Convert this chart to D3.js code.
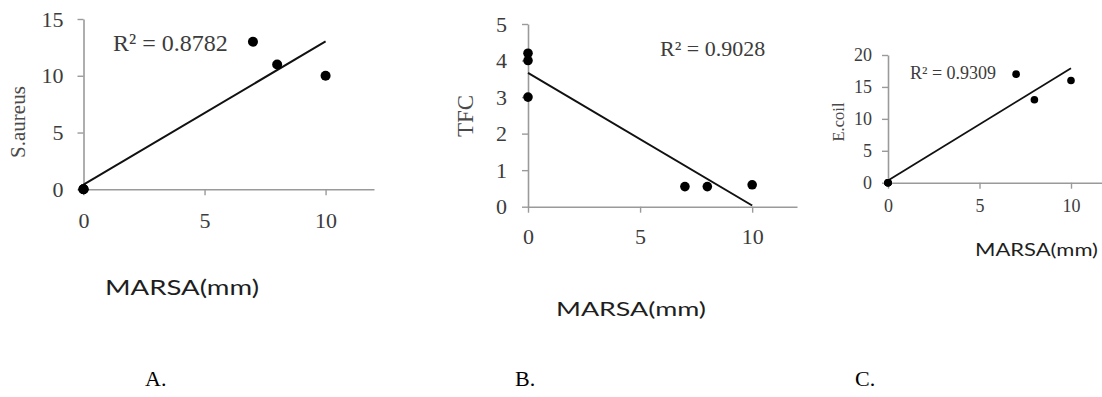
<!DOCTYPE html>
<html>
<head>
<meta charset="utf-8">
<script src="https://cdn.jsdelivr.net/npm/d3@7/dist/d3.min.js"></script>
<style>
  html, body { margin: 0; padding: 0; background: #fff; }
  svg { display: block; }
</style>
</head>
<body>
<svg id="fig" width="1102" height="397"></svg>
<script>
// Zone-of-inhibition diameter (mm) for each sample, shared by all panels
const marsa = [0, 0, 0, 7, 8, 10];
// Response variables
const saureus = [0, 0, 0, 13, 11, 10];
const tfc = [4.2, 4.0, 3.0, 0.55, 0.55, 0.6];
const ecoil = [0, 0, 0, 17, 13, 16];

const xTicks = [0, 5, 10];
const yTicksA = [0, 5, 10, 15];
const yTicksB = [0, 1, 2, 3, 4, 5];
const yTicksC = [0, 5, 10, 15, 20];

const r2Labels = ["R\u00B2 = 0.8782", "R\u00B2 = 0.9028", "R\u00B2 = 0.9309"];
const yTitles = ["S.aureus", "TFC", "E.coil"];
const xTitle = "MARSA(mm)";
const panelLetters = ["A.", "B.", "C."];

const serif = "'Liberation Serif', 'Times New Roman', serif";
const sans = "Lato, 'Open Sans', sans-serif";

const svg = d3.select("#fig");

// Least-squares fit y = a + b x
function linearFit(xs, ys) {
  const n = xs.length;
  const mx = d3.mean(xs), my = d3.mean(ys);
  let sxy = 0, sxx = 0;
  for (let i = 0; i < n; i++) {
    sxy += (xs[i] - mx) * (ys[i] - my);
    sxx += (xs[i] - mx) ** 2;
  }
  const b = sxy / sxx;
  return { a: my - b * mx, b };
}

const panels = [
  {
    ys: saureus, yTicks: yTicksA, yMax: 15, r2: r2Labels[0], yTitle: yTitles[0],
    x0: 83.5, x1: 374, yTop: 19, yBot: 189.3,
    tickFont: 22, r2Font: 24, r2Pos: [113, 51],
    yTitlePos: [18, 122], yTitleFont: 21,
    yPad: 14, xPad: 17, dot: 5, lineW: 2,
    xTitleBox: { x: 105, w: 154, y: 295, size: 21 },
    letter: { x: 145, y: 386 }
  },
  {
    ys: tfc, yTicks: yTicksB, yMax: 5, r2: r2Labels[1], yTitle: yTitles[1],
    x0: 528, x1: 797, yTop: 24, yBot: 206.7,
    tickFont: 22, r2Font: 22, r2Pos: [660, 56],
    yTitlePos: [465, 116], yTitleFont: 23,
    yPad: 15, xPad: 16, dot: 4.8, lineW: 2,
    xTitleBox: { x: 556, w: 150, y: 316, size: 19 },
    letter: { x: 515, y: 386 }
  },
  {
    ys: ecoil, yTicks: yTicksC, yMax: 20, r2: r2Labels[2], yTitle: yTitles[2],
    x0: 888, x1: 1107.6, yTop: 55, yBot: 182.7,
    tickFont: 18, r2Font: 18, r2Pos: [910, 79],
    yTitlePos: [838, 122], yTitleFont: 16.5,
    yPad: 10, xPad: 10.5, dot: 3.8, lineW: 1.8,
    xTitleBox: { x: 975, w: 123, y: 256, size: 17 },
    letter: { x: 855, y: 386 }
  }
];

const intFmt = d3.format("d");

panels.forEach((p, i) => {
  const g = svg.append("g");
  const x = d3.scaleLinear().domain([0, 12]).range([p.x0, p.x1]);
  const y = d3.scaleLinear().domain([0, p.yMax]).range([p.yBot, p.yTop]);

  // Axes
  const xAxis = d3.axisBottom(x).tickValues(xTicks).tickFormat(intFmt)
    .tickSize(6).tickSizeOuter(0).tickPadding(p.xPad);
  const yAxis = d3.axisLeft(y).tickValues(p.yTicks).tickFormat(intFmt)
    .tickSize(6).tickSizeOuter(0).tickPadding(p.yPad);

  const gx = g.append("g").attr("transform", `translate(0,${p.yBot})`).call(xAxis);
  const gy = g.append("g").attr("transform", `translate(${p.x0},0)`).call(yAxis);

  [gx, gy].forEach(ax => {
    ax.attr("font-family", serif).attr("font-size", p.tickFont);
    ax.select(".domain").attr("stroke", "#9a9a9a").attr("stroke-width", 1.6);
    ax.selectAll(".tick line").attr("stroke", "#9a9a9a").attr("stroke-width", 1.4);
    ax.selectAll(".tick text")
      .attr("fill", "#3c3c3c")
      .style("font-family", serif)
      .style("font-size", p.tickFont + "px");
  });

  // Linear trendline over the data range
  const fit = linearFit(marsa, p.ys);
  const xr = d3.extent(marsa);
  g.append("line")
    .attr("x1", x(xr[0])).attr("y1", y(fit.a + fit.b * xr[0]))
    .attr("x2", x(xr[1])).attr("y2", y(fit.a + fit.b * xr[1]))
    .attr("stroke", "#111").attr("stroke-width", p.lineW);

  // Observations
  g.selectAll("circle.pt")
    .data(marsa.map((m, k) => [m, p.ys[k]]))
    .join("circle")
    .attr("class", "pt")
    .attr("cx", d => x(d[0]))
    .attr("cy", d => y(d[1]))
    .attr("r", p.dot)
    .attr("fill", "#000");

  // Coefficient of determination
  g.append("text")
    .attr("x", p.r2Pos[0]).attr("y", p.r2Pos[1])
    .attr("fill", "#3c3c3c")
    .style("font-family", serif)
    .style("font-size", p.r2Font + "px")
    .text(p.r2);

  // Y axis title
  g.append("text")
    .attr("transform", `translate(${p.yTitlePos[0]},${p.yTitlePos[1]}) rotate(-90)`)
    .attr("text-anchor", "middle")
    .attr("dy", "0.35em")
    .attr("fill", "#4a4a4a")
    .style("font-family", serif)
    .style("font-size", p.yTitleFont + "px")
    .text(p.yTitle);

  // X axis title
  g.append("text")
    .attr("x", p.xTitleBox.x).attr("y", p.xTitleBox.y)
    .attr("textLength", p.xTitleBox.w)
    .attr("lengthAdjust", "spacingAndGlyphs")
    .attr("fill", "#1e1e1e")
    .style("font-family", sans)
    .style("font-size", p.xTitleBox.size + "px")
    .text(xTitle);

  // Panel letter
  svg.append("text")
    .attr("x", p.letter.x).attr("y", p.letter.y)
    .attr("fill", "#000")
    .style("font-family", serif)
    .style("font-size", "22px")
    .text(panelLetters[i]);
});
</script>
</body>
</html>
